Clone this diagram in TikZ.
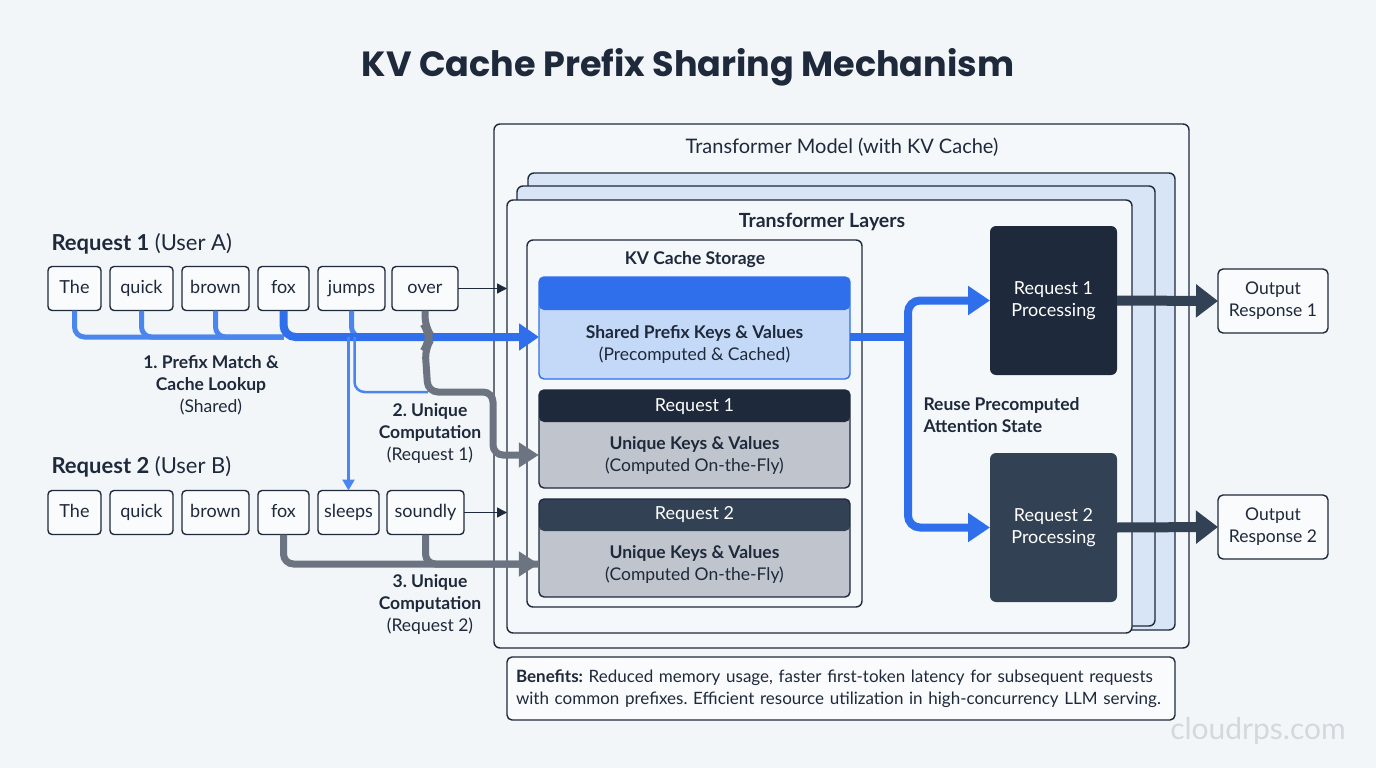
\documentclass[tikz,border=0pt]{standalone}
\usepackage{fontspec}
\setmainfont{Lato}
\newfontfamily\titlefont{Poppins}
\usetikzlibrary{arrows.meta,positioning}
\frenchspacing
\definecolor{bgcolour}{HTML}{F3F6F9}
\definecolor{navy}{HTML}{1E293B}
\definecolor{slate}{HTML}{334155}
\definecolor{flowblue}{HTML}{2F6FEB}
\definecolor{lightflow}{HTML}{4A86EE}
\definecolor{cardblue}{HTML}{C4D9F8}
\definecolor{cardgray}{HTML}{C0C4CC}
\definecolor{flowgray}{HTML}{6B7480}
\definecolor{layerblue}{HTML}{D8E5F7}
\definecolor{panelfill}{HTML}{F5F8FB}
\definecolor{markgray}{HTML}{D3D8DE}

\tikzset{
  txt/.style={font=\fontsize{17.5}{22}\selectfont, text=navy},
  panel/.style={draw=navy, line width=1.4pt, rounded corners=6pt, fill=panelfill, outer sep=0pt},
  layer/.style={draw=navy, line width=1.4pt, rounded corners=6pt, outer sep=0pt},
  token/.style={draw=navy, line width=1.4pt, rounded corners=4pt, fill=white!60!bgcolour, minimum height=44pt, inner sep=0pt, outer sep=0pt, txt, font=\fontsize{18}{22}\selectfont, text height=12.5pt, text depth=3.5pt},
  kvcard/.style={draw=#1, line width=1.4pt, rounded corners=5pt, minimum width=311pt, outer sep=0pt},
  procbox/.style={rounded corners=6pt, minimum width=127pt, minimum height=149pt, align=center, text=white, font=\fontsize{18}{22}\selectfont, outer sep=0pt},
  outbox/.style={draw=navy, line width=1.4pt, rounded corners=5pt, fill=white!60!bgcolour, minimum width=110pt, minimum height=64pt, align=center, txt, outer sep=0pt},
  busline/.style={draw=lightflow, line width=5pt, rounded corners=10pt},
  busmain/.style={draw=flowblue, line width=8pt, rounded corners=12pt, -{Triangle[length=20pt,width=26pt]}},
  grayflow/.style={draw=flowgray, line width=7pt, rounded corners=10pt},
  darkflow/.style={draw=slate, line width=10pt, -{Triangle[length=22pt,width=32pt]}},
  thinarrow/.style={draw=navy, line width=1.5pt, -{Triangle[length=10pt,width=10pt]}}
}

\begin{document}
\begin{tikzpicture}[x=1pt,y=-1pt]
% Canvas
\fill[bgcolour] (0,0) rectangle (1376,768);
\useasboundingbox (0,0) rectangle (1376,768);

% Title
\node[font=\titlefont\bfseries\fontsize{35}{40}\selectfont, text=navy] (title) at (688,67) {KV Cache Prefix Sharing Mechanism};

% Transformer Model (with KV Cache)
\node[panel, minimum width=695pt, minimum height=524pt] (model) at (841.5,386) {};
\node[txt, font=\fontsize{20}{24}\selectfont] (modeltitle) at (842,147) {Transformer Model (with KV Cache)};

% Stacked layers
\node[layer, fill=layerblue, minimum width=647pt, minimum height=457pt] (layer3) at (851.5,401.5) {};
\node[layer, fill=layerblue, minimum width=638pt, minimum height=440pt] (layer2) at (836,406) {};
\node[layer, fill=panelfill, minimum width=625pt, minimum height=433pt] (layer1) at (819.5,416.5) {};
\node[txt, font=\bfseries\fontsize{19.5}{23}\selectfont] (layertitle) at (822,222) {Transformer Layers};

% KV Cache Storage
\node[panel, fill=panelfill, minimum width=335pt, minimum height=367pt] (storage) at (694.5,423.5) {};
\node[txt, font=\bfseries\fontsize{17.5}{22}\selectfont] (storagetitle) at (695,260) {KV Cache Storage};

% Shared prefix card
\node[kvcard=flowblue, fill=cardblue, minimum height=102pt,
  path picture={\fill[flowblue] (path picture bounding box.north west) rectangle ([yshift=-33pt]path picture bounding box.north east);}] (shared) at (694.5,328) {};
\node[txt, align=center] (sharedtxt) at (694.5,344) {\textbf{Shared Prefix Keys \& Values}\\(Precomputed \& Cached)};

% Request 1 unique card
\node[kvcard=navy, fill=cardgray, minimum height=98pt,
  path picture={\fill[navy] (path picture bounding box.north west) rectangle ([yshift=-32pt]path picture bounding box.north east);}] (uniq1) at (694.5,439) {};
\node[txt, text=white, font=\fontsize{18}{22}\selectfont] (uniq1head) at (694.5,406.5) {Request 1};
\node[txt, align=center, minimum width=311pt, minimum height=66pt, inner sep=0pt] (uniq1body) at (694.5,455) {\textbf{Unique Keys \& Values}\\(Computed On-the-Fly)};

% Request 2 unique card
\node[kvcard=navy, fill=cardgray, minimum height=98pt,
  path picture={\fill[slate] (path picture bounding box.north west) rectangle ([yshift=-32pt]path picture bounding box.north east);}] (uniq2) at (694.5,548) {};
\node[txt, text=white, font=\fontsize{18}{22}\selectfont] (uniq2head) at (694.5,515) {Request 2};
\node[txt, align=center, minimum width=311pt, minimum height=66pt, inner sep=0pt] (uniq2body) at (694.5,564) {\textbf{Unique Keys \& Values}\\(Computed On-the-Fly)};

% Processing blocks
\node[procbox, fill=navy] (proc1) at (1053.5,300.5) {Request 1\\Processing};
\node[procbox, fill=slate] (proc2) at (1053.5,527.5) {Request 2\\Processing};
\node[txt, font=\bfseries\fontsize{17.5}{22}\selectfont, anchor=west, align=left] (reuse) at (920,415) {Reuse Precomputed\\Attention State};

% Outputs
\node[outbox] (out1) at (1273,301) {Output\\Response 1};
\node[outbox] (out2) at (1273,527) {Output\\Response 2};

% Request 1 (User A)
\node[txt, font=\fontsize{22}{26}\selectfont, anchor=west] (req1) at (48,244) {\textbf{Request 1} (User A)};
\node[token, minimum width=53pt] (a1) at (74.5,288.5) {The};
\node[token, minimum width=63pt] (a2) at (141.5,288.5) {quick};
\node[token, minimum width=67pt] (a3) at (215.5,288.5) {brown};
\node[token, minimum width=51pt] (a4) at (283.5,288.5) {fox};
\node[token, minimum width=67pt] (a5) at (351.5,288.5) {jumps};
\node[token, minimum width=66pt] (a6) at (425,288.5) {over};

% Request 2 (User B)
\node[txt, font=\fontsize{22}{26}\selectfont, anchor=west] (req2) at (48,467) {\textbf{Request 2} (User B)};
\node[token, minimum width=53pt] (b1) at (74.5,512.5) {The};
\node[token, minimum width=63pt] (b2) at (141.5,512.5) {quick};
\node[token, minimum width=67pt] (b3) at (215.5,512.5) {brown};
\node[token, minimum width=51pt] (b4) at (283.5,512.5) {fox};
\node[token, minimum width=61pt] (b5) at (348.5,512.5) {sleeps};
\node[token, minimum width=77pt] (b6) at (425.5,512.5) {soundly};

% Step labels
\node[txt, align=center] (step1) at (211,385) {\textbf{1. Prefix Match \&}\\\textbf{Cache Lookup}\\(Shared)};
\node[txt, align=center] (step2) at (430,434) {\textbf{2. Unique}\\\textbf{Computation}\\(Request 1)};
\node[txt, align=center] (step3) at (430,605) {\textbf{3. Unique}\\\textbf{Computation}\\(Request 2)};

% Benefits
\node[draw=navy, line width=1.4pt, rounded corners=5pt, fill=white!60!bgcolour, minimum width=668pt, minimum height=63pt, text width=650pt, align=left, txt, font=\fontsize{17}{22}\selectfont] (benefits) at (841,688.5) {\textbf{Benefits:} Reduced memory usage, faster first-token latency for subsequent requests\\with common prefixes. Efficient resource utilization in high-concurrency LLM serving.};

% Watermark
\node[font=\fontsize{30}{32}\selectfont, text=markgray] (mark) at (1258,731) {cloudrps.com};

% Bus levels and turns
\coordinate (bus) at (0,337);
\coordinate (r1turn) at (428,392);
\coordinate (r1drop) at (493,392);

% Shared prefix flow (blue)
\draw[busline] (a1.south) |- (a4.south |- bus);
\draw[busline] (a2.south) |- (a4.south |- bus);
\draw[busline] (a3.south) |- (a4.south |- bus);
\draw[busline] (a5.south) |- (a6.south |- bus);
\draw[busmain] (a4.south) |- (shared.west |- bus);
\draw[draw=lightflow, line width=2.5pt, rounded corners=10pt] ([xshift=6pt]b5.north |- bus) |- (r1turn);
\draw[draw=lightflow, line width=3pt, -{Triangle[length=11pt,width=12pt]}] (b5.north |- bus) -- (b5.north);

% Unique flow for Request 1 (gray)
\draw[grayflow, -{Triangle[length=20pt,width=24pt]}] (a6.south) -- ++(0,16) -- ++(4,6) -- ++(0,10) -- ++(-4,6) -- (r1turn) -- (r1drop) |- (uniq1body.west);

% Unique flow for Request 2 (gray)
\draw[grayflow] (b6.south) |- (uniq2body.west);
\draw[grayflow, -{Triangle[length=20pt,width=24pt]}] (b4.south) |- (uniq2body.west);

% Last tokens into the layers
\draw[thinarrow] (a6.east) -- (a6.east -| layer1.west);
\draw[thinarrow] (b6.east) -- (b6.east -| layer1.west);

% Reuse of the cached state
\draw[draw=flowblue, line width=8pt] (shared.east |- bus) -- ++(58,0) coordinate (fork);
\draw[busmain, -{Triangle[length=22pt,width=28pt]}] (fork) |- (proc1.west);
\draw[busmain, -{Triangle[length=22pt,width=28pt]}] (fork) |- (proc2.west);

% Responses
\draw[darkflow] (proc1.east) -- (out1.west);
\draw[darkflow] (proc2.east) -- (out2.west);
\end{tikzpicture}
\end{document}
